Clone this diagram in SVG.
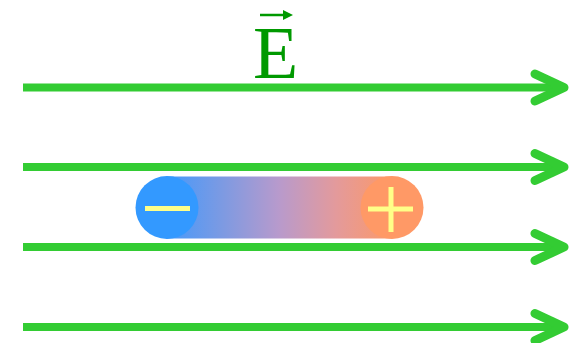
<svg xmlns="http://www.w3.org/2000/svg" width="576" height="343" viewBox="0 0 576 343">
<defs>
<style>
.field{stroke:#33cc33;stroke-width:8;fill:none}
.head{stroke:#33cc33;stroke-width:9;fill:none;stroke-linecap:round;stroke-linejoin:round}
.sign{stroke:#ffff88;stroke-width:5;fill:none}
</style>
<linearGradient id="g" x1="166" y1="0" x2="392" y2="0" gradientUnits="userSpaceOnUse">
<stop offset="0" stop-color="#4499fb"/>
<stop offset="0.25" stop-color="#7d9ae2"/>
<stop offset="0.5" stop-color="#b89acc"/>
<stop offset="0.75" stop-color="#e39a9c"/>
<stop offset="1" stop-color="#fc9968"/>
</linearGradient>
</defs>
<rect width="576" height="343" fill="#fff"/>
<g id="connectors">
<path class="field" d="M23 87.5H562"/>
<path class="head" d="M535 74L564 87.5L535 101"/>
<path class="field" d="M23 167H562"/>
<path class="head" d="M535 153.5L564 167L535 180.5"/>
<path class="field" d="M23 247H562"/>
<path class="head" d="M535 233.5L564 247L535 260.5"/>
<path class="field" d="M23 327H562"/>
<path class="head" d="M535 313.5L564 327L535 340.5"/>
</g>
<g id="label-E">
<text x="275.5" y="78" font-family="Liberation Serif, serif" font-size="74" fill="#009900" text-anchor="middle">E</text>
<path d="M260 15H285" stroke="#009900" stroke-width="2.5"/>
<path d="M283 10L293 15L283 20Z" fill="#009900"/>
</g>
<g id="dipole">
<rect x="166" y="176.5" width="226" height="62" fill="url(#g)"/>
<circle cx="167" cy="207.5" r="31.5" fill="#3399ff"/>
<circle cx="392" cy="207.5" r="31.5" fill="#ff9966"/>
<path class="sign" d="M145 208.5H190"/>
<path class="sign" d="M368 209H413M391 187V232"/>
</g>
</svg>
